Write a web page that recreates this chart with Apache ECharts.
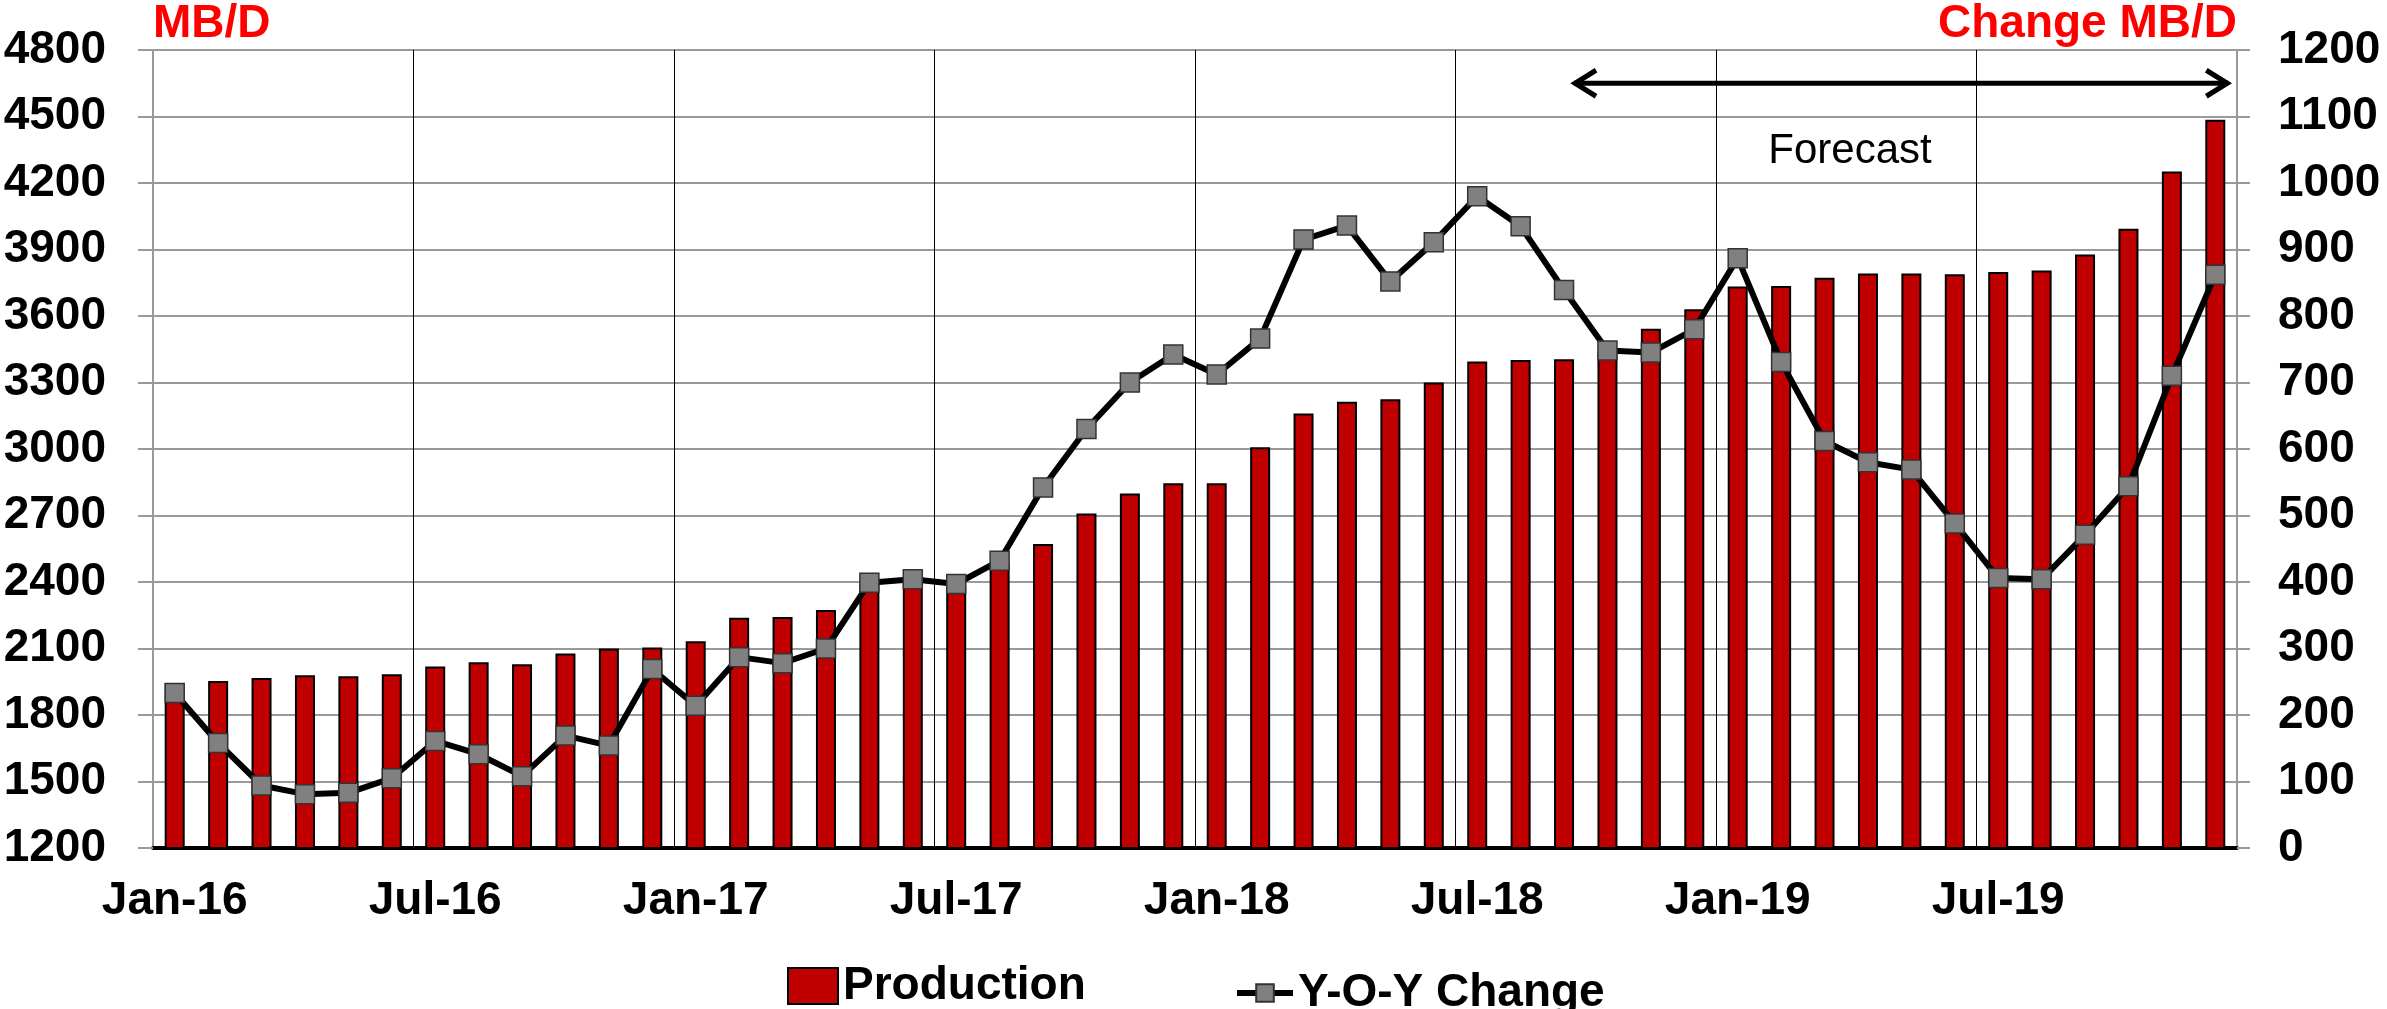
<!DOCTYPE html>
<html>
<head>
<meta charset="utf-8">
<title>Production and Y-O-Y Change</title>
<script src="https://cdn.jsdelivr.net/npm/echarts@6/dist/echarts.min.js"></script>
<style>
  html, body { margin: 0; padding: 0; background: #fff; }
  #chart { width: 2387px; height: 1009px; }
</style>
</head>
<body>
<div id="chart"></div>
<script>
// month categories, Jan-16 .. Dec-19
const months = [
  'Jan-16', 'Feb-16', 'Mar-16', 'Apr-16', 'May-16', 'Jun-16', 'Jul-16', 'Aug-16', 'Sep-16', 'Oct-16', 'Nov-16', 'Dec-16',
  'Jan-17', 'Feb-17', 'Mar-17', 'Apr-17', 'May-17', 'Jun-17', 'Jul-17', 'Aug-17', 'Sep-17', 'Oct-17', 'Nov-17', 'Dec-17',
  'Jan-18', 'Feb-18', 'Mar-18', 'Apr-18', 'May-18', 'Jun-18', 'Jul-18', 'Aug-18', 'Sep-18', 'Oct-18', 'Nov-18', 'Dec-18',
  'Jan-19', 'Feb-19', 'Mar-19', 'Apr-19', 'May-19', 'Jun-19', 'Jul-19', 'Aug-19', 'Sep-19', 'Oct-19', 'Nov-19', 'Dec-19'
]

// production, MB/D (left axis)
const production = [
  1943, 1953, 1967, 1979, 1975, 1984, 2019, 2038, 2029, 2077, 2100, 2104,
  2133, 2239, 2242, 2274, 2395, 2410, 2385, 2480, 2571, 2709, 2799, 2846,
  2845, 3008, 3160, 3213, 3224, 3300, 3395, 3402, 3405, 3440, 3543, 3630,
  3733, 3735, 3772, 3792, 3792, 3788, 3798, 3805, 3877, 3994, 4252, 4485
]

// year-over-year change, MB/D (right axis)
const yoyChange = [
  233, 158, 94, 81, 83, 105, 161, 141, 108, 169, 154, 269,
  214, 287, 278, 300, 399, 404, 397, 432, 542, 630, 700, 742,
  712, 766, 915, 936, 852, 911, 980, 935, 839, 748, 745, 780,
  887, 731, 612, 580, 569, 488, 406, 404, 471, 544, 710, 862
]

const FONT = '"Liberation Sans", Arial, sans-serif'
const GRID_GRAY = '#9a9a9a'

const chart = echarts.init(document.getElementById('chart'))

const legendText = { fontFamily: FONT, fontSize: 46, fontWeight: 'bold', color: '#000' }

const option = {
  animation: false,
  textStyle: { fontFamily: FONT },
  grid: {
    left: 153,
    right: 150,
    top: 50,
    bottom: 161
  },
  legend: [
    {
      data: [{ name: 'Production', icon: 'rect' }],
      left: 787,
      top: 963,
      padding: 0,
      itemWidth: 50,
      itemHeight: 36,
      textStyle: legendText
    },
    {
      data: ['Y-O-Y Change'],
      left: 1234,
      top: 970,
      padding: 0,
      itemWidth: 56,
      itemHeight: 22,
      lineStyle: { width: 6 },
      textStyle: legendText
    }
  ],
  xAxis: [
    {
      type: 'category',
      data: months,
      boundaryGap: true,
      axisLine: { onZero: false, lineStyle: { color: '#000', width: 4 } },
      axisTick: { interval: 5, length: 13, lineStyle: { color: '#000', width: 3 } },
      axisLabel: {
        interval: 5,
        margin: 30,
        fontSize: 46,
        fontWeight: 'bold',
        color: '#000',
        fontFamily: FONT
      },
      splitLine: { show: true, interval: 5, lineStyle: { color: '#000', width: 1 } }
    },
    {
      // inner half of the crossing ticks
      type: 'category',
      data: months,
      position: 'bottom',
      boundaryGap: true,
      axisLine: { show: false, onZero: false },
      axisTick: { inside: true, interval: 5, length: 13, lineStyle: { color: '#000', width: 3 } },
      axisLabel: { show: false },
      splitLine: { show: false }
    }
  ],
  yAxis: [
    {
      type: 'value',
      min: 1200,
      max: 4800,
      interval: 300,
      name: 'MB/D',
      nameLocation: 'end',
      nameGap: 26,
      nameTextStyle: {
        color: '#ff0000', fontSize: 46, fontWeight: 'bold', fontFamily: FONT,
        align: 'left', verticalAlign: 'middle'
      },
      axisLine: { show: true, lineStyle: { color: GRID_GRAY, width: 2 } },
      axisTick: { show: true, length: 15, lineStyle: { color: GRID_GRAY, width: 2 } },
      axisLabel: {
        margin: 47, fontSize: 46, fontWeight: 'bold', color: '#000', fontFamily: FONT,
        formatter: v => String(v)
      },
      splitLine: { show: true, lineStyle: { color: GRID_GRAY, width: 2 } }
    },
    {
      type: 'value',
      min: 0,
      max: 1200,
      interval: 100,
      position: 'right',
      name: 'Change MB/D',
      nameLocation: 'end',
      nameGap: 26,
      nameTextStyle: {
        color: '#ff0000', fontSize: 46, fontWeight: 'bold', fontFamily: FONT,
        align: 'right', verticalAlign: 'middle'
      },
      axisLine: { show: true, lineStyle: { color: GRID_GRAY, width: 2 } },
      axisTick: { show: true, length: 13, lineStyle: { color: GRID_GRAY, width: 2 } },
      axisLabel: {
        margin: 41, fontSize: 46, fontWeight: 'bold', color: '#000', fontFamily: FONT,
        formatter: v => String(v)
      },
      splitLine: { show: false }
    }
  ],
  series: [
    {
      name: 'Production',
      type: 'bar',
      yAxisIndex: 0,
      data: production,
      barWidth: 20,
      itemStyle: { color: '#c00000', borderColor: '#000', borderWidth: 2 }
    },
    {
      name: 'Y-O-Y Change',
      type: 'line',
      yAxisIndex: 1,
      data: yoyChange,
      symbol: 'rect',
      symbolSize: 19,
      showAllSymbol: true,
      lineStyle: { color: '#000', width: 6 },
      itemStyle: { color: '#808080', borderColor: '#333', borderWidth: 1.5 }
    }
  ]
}

chart.setOption(option)

// forecast arrow + label, placed from the axes
const arrowY = chart.convertToPixel({ yAxisIndex: 0 }, 4650)
const arrowX0 = chart.convertToPixel({ xAxisIndex: 0 }, 'Sep-18') + 10
const arrowX1 = chart.convertToPixel({ xAxisIndex: 0 }, 'Dec-19') + 13
const head = 22
const arm = 13

chart.setOption({
  graphic: [
    {
      type: 'line',
      shape: { x1: arrowX0, y1: arrowY, x2: arrowX1, y2: arrowY },
      style: { stroke: '#000', lineWidth: 5 }
    },
    {
      type: 'polyline',
      shape: { points: [[arrowX0 + head, arrowY - arm], [arrowX0 + 1, arrowY], [arrowX0 + head, arrowY + arm]] },
      style: { stroke: '#000', lineWidth: 5, fill: null }
    },
    {
      type: 'polyline',
      shape: { points: [[arrowX1 - head, arrowY - arm], [arrowX1 - 1, arrowY], [arrowX1 - head, arrowY + arm]] },
      style: { stroke: '#000', lineWidth: 5, fill: null }
    },
    {
      type: 'text',
      x: 1850,
      y: 151,
      style: {
        text: 'Forecast',
        fill: '#000',
        font: '42px ' + FONT,
        align: 'center',
        verticalAlign: 'middle'
      }
    }
  ]
})
</script>
</body>
</html>
